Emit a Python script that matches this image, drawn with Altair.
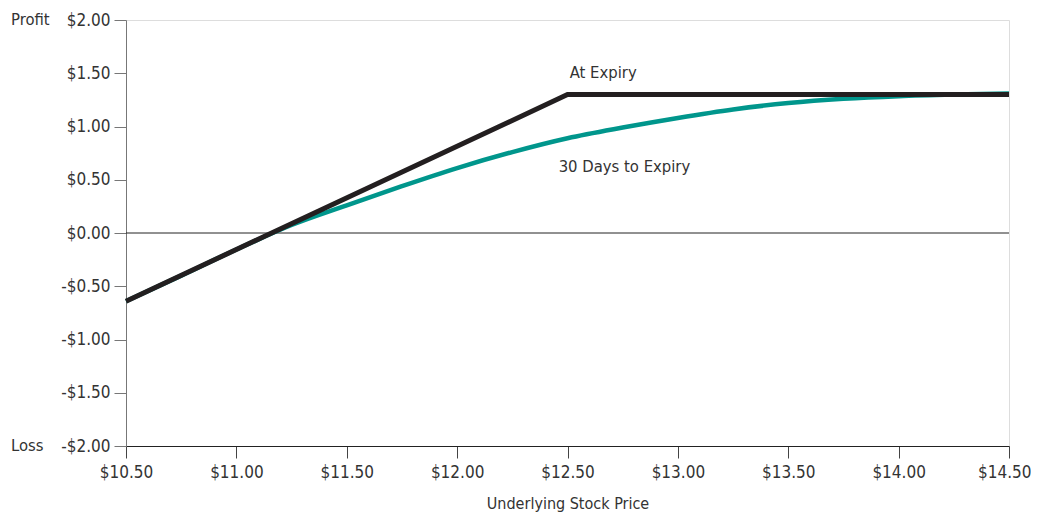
import altair as alt
import pandas as pd

# Data
price_expiry = [10.5, 12.5, 14.5]
profit_expiry = [-0.64, 1.30, 1.30]

price_30 = [10.5, 10.75, 11.0, 11.25, 11.5, 11.75, 12.0, 12.25, 12.5,
            12.75, 13.0, 13.25, 13.5, 13.75, 14.0, 14.25, 14.5]
profit_30 = [-0.64, -0.40, -0.155, 0.075, 0.26, 0.44, 0.61, 0.76, 0.89,
             0.99, 1.08, 1.16, 1.22, 1.26, 1.285, 1.30, 1.31]

x_ticks = [10.5, 11.0, 11.5, 12.0, 12.5, 13.0, 13.5, 14.0, 14.5]
y_ticks = [-2.0, -1.5, -1.0, -0.5, 0.0, 0.5, 1.0, 1.5, 2.0]

label_text = ["At Expiry", "30 Days to Expiry"]
label_x = [12.51, 12.46]
label_y = [1.50, 0.62]

side_text = ["Profit", "Loss"]
side_y = [2.0, -2.0]

FONT = "Liberation Sans Narrow, DejaVu Sans Condensed, Roboto Condensed, Roboto, sans-serif"
BLACK = "#231f20"
TEAL = "#00968c"

df_exp = pd.DataFrame({"price": price_expiry, "profit": profit_expiry})
df_30 = pd.DataFrame({"price": price_30, "profit": profit_30})
df_lab = pd.DataFrame({"text": label_text, "price": label_x, "profit": label_y})
df_side = pd.DataFrame({"text": side_text, "profit": side_y})

xscale = alt.Scale(domain=[10.5, 14.5], nice=False, zero=False)
yscale = alt.Scale(domain=[-2.0, 2.0], nice=False, zero=False)

x_enc = alt.X("price:Q", scale=xscale, axis=alt.Axis(
    values=x_ticks, format="$.2f", title="Underlying Stock Price",
    grid=False, tickSize=12, tickColor="#444", domainColor="#222",
    labelFontSize=17, labelColor="#333", labelPadding=6, labelFont=FONT,
    labelAlign={"condition": {"test": "datum.value == 14.5", "value": "right"},
                "value": "center"},
    labelOffset={"condition": {"test": "datum.value == 14.5", "value": 22},
                 "value": 0},
    titleFont=FONT, titleFontSize=16, titleFontWeight="normal",
    titleColor="#333", titlePadding=15, labelFlush=False))
y_enc = alt.Y("profit:Q", scale=yscale, axis=alt.Axis(
    values=y_ticks, title=None, grid=False, tickSize=12,
    tickColor="#777", domainColor="#777",
    labelExpr="(datum.value < 0 ? '-' : '') + '$' + format(abs(datum.value), '.2f')",
    labelFontSize=17, labelColor="#333", labelPadding=4, labelFont=FONT))

base30 = alt.Chart(df_30).mark_line(
    color=TEAL, strokeWidth=4.5, interpolate="monotone"
).encode(x=x_enc, y=y_enc)

zero_rule = alt.Chart(pd.DataFrame({"profit": [0.0]})).mark_rule(
    color="#222", strokeWidth=1
).encode(y=alt.Y("profit:Q", scale=yscale))

exp_line = alt.Chart(df_exp).mark_line(
    color=BLACK, strokeWidth=5, strokeJoin="miter", strokeCap="butt"
).encode(x=alt.X("price:Q", scale=xscale), y=alt.Y("profit:Q", scale=yscale))

labels = alt.Chart(df_lab).mark_text(
    align="left", baseline="middle", font=FONT, fontSize=16.5, color="#333"
).encode(x=alt.X("price:Q", scale=xscale), y=alt.Y("profit:Q", scale=yscale),
         text="text:N")

side = alt.Chart(df_side).mark_text(
    align="left", baseline="middle", font=FONT, fontSize=16.5, color="#333"
).encode(x=alt.value(-115), y=alt.Y("profit:Q", scale=yscale), text="text:N")

chart = alt.layer(zero_rule, base30, exp_line, labels, side).properties(
    width=883, height=426,
    autosize=alt.AutoSizeParams(type="none"),
    padding={"left": 118, "top": 12, "right": 22, "bottom": 66},
).configure_view(stroke="#888", strokeWidth=1.2).configure(background="white")

chart.save("out.html", embed_options={"renderer": "svg", "actions": False})
